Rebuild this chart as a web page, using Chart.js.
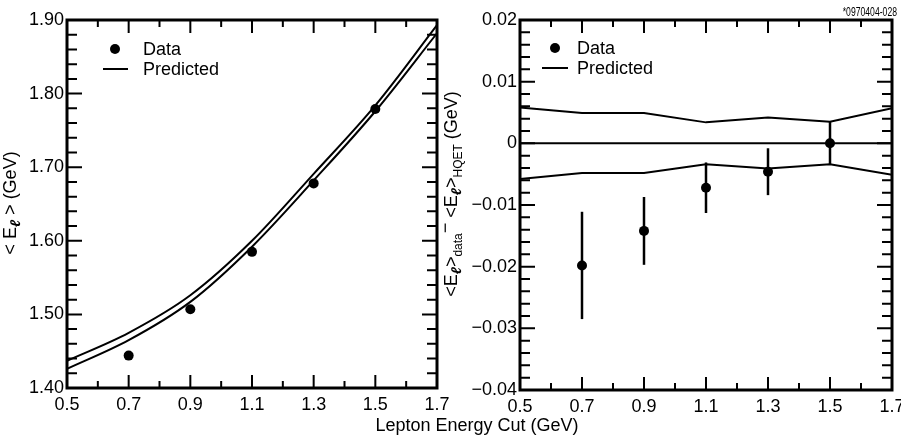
<!DOCTYPE html>
<html>
<head>
<meta charset="utf-8">
<title>Lepton energy moments</title>
<script src="https://cdn.jsdelivr.net/npm/chart.js@4"></script>
<style>
  html, body { margin: 0; padding: 0; background: #fff; }
  #wrap { position: relative; width: 901px; height: 441px; overflow: hidden; background: #fff; }
  #leftChart { position: absolute; left: 0; top: 0; }
  #rightChart { position: absolute; left: 436px; top: 0; }
  #xTitle {
    position: absolute; left: 277px; width: 400px; top: 416px;
    text-align: center; color: #000;
    font: 18px/18px "Liberation Sans", Arial, sans-serif;
  }
</style>
</head>
<body>
<div id="wrap">
  <canvas id="leftChart" width="450" height="441"></canvas>
  <canvas id="rightChart" width="465" height="441"></canvas>
  <div id="xTitle">Lepton Energy Cut (GeV)</div>
</div>
<script>
// lepton energy cuts (GeV)
const cuts = [0.7, 0.9, 1.1, 1.3, 1.5];
const predCuts = [0.5, 0.7, 0.9, 1.1, 1.3, 1.5, 1.7];

// left: <E_l> measured and predicted band
const meanData = [1.444, 1.507, 1.585, 1.678, 1.779];
const predUpper = [1.437, 1.475, 1.526, 1.600, 1.691, 1.784, 1.893];
const predLower = [1.426, 1.465, 1.517, 1.592, 1.682, 1.776, 1.882];

// right: data minus HQET, with errors, and predicted band
const diffData = [-0.0198, -0.0142, -0.0072, -0.0046, 0.0000];
const diffErr = [0.0087, 0.0055, 0.0041, 0.0038, 0.0035];
const bandUpper = [0.0058, 0.0049, 0.0049, 0.0034, 0.0042, 0.0035, 0.0057];
const bandLower = [-0.0058, -0.0048, -0.0048, -0.0034, -0.0041, -0.0034, -0.0051];

// tick labels
const xTickValues = [0.5, 0.7, 0.9, 1.1, 1.3, 1.5, 1.7];
const leftYTicks = [1.40, 1.50, 1.60, 1.70, 1.80, 1.90];
const rightYTicks = [-0.04, -0.03, -0.02, -0.01, 0, 0.01, 0.02];

const FONT = '"Liberation Sans", Arial, Helvetica, sans-serif';
Chart.defaults.font.family = FONT;
Chart.defaults.font.size = 18;
Chart.defaults.color = '#000';

const pts = (xs, ys) => xs.map((x, i) => ({ x: x, y: ys[i] }));

// rotated text made of pieces with different size / offset
function richText(ctx, parts, cx, cy) {
  let total = 0;
  parts.forEach(p => {
    ctx.font = (p.style || '') + ' ' + p.size + 'px ' + FONT;
    p.w = ctx.measureText(p.t).width;
    total += p.w;
  });
  ctx.save();
  ctx.translate(cx, cy);
  ctx.rotate(-Math.PI / 2);
  ctx.textBaseline = 'alphabetic';
  ctx.textAlign = 'left';
  ctx.fillStyle = '#000';
  let x = -total / 2;
  parts.forEach(p => {
    ctx.font = (p.style || '') + ' ' + p.size + 'px ' + FONT;
    ctx.fillText(p.t, x, p.dy || 0);
    x += p.w;
  });
  ctx.restore();
}

// frame, inward ticks, legend, axis title, error bars
function panelDecor(o) {
  return {
    id: 'panelDecor',
    beforeDatasetsDraw(chart) {
      if (!o.errors) return;
      const { ctx, scales: { x, y } } = chart;
      ctx.save();
      ctx.strokeStyle = '#000';
      ctx.lineWidth = 2.5;
      o.errors.x.forEach((v, i) => {
        const px = x.getPixelForValue(v);
        ctx.beginPath();
        ctx.moveTo(px, y.getPixelForValue(o.errors.y[i] - o.errors.e[i]));
        ctx.lineTo(px, y.getPixelForValue(o.errors.y[i] + o.errors.e[i]));
        ctx.stroke();
      });
      ctx.restore();
    },
    afterDraw(chart) {
      const { ctx, chartArea: a, scales: { x, y } } = chart;
      const isMajor = (v, list) => list.some(m => Math.abs(m - v) < 1e-9);
      ctx.save();
      ctx.strokeStyle = '#000';
      ctx.lineWidth = 2;
      ctx.beginPath();
      for (let k = 0; ; k++) {
        const v = x.min + k * o.xMinor;
        if (v > x.max + 1e-9) break;
        const px = x.getPixelForValue(v);
        const len = isMajor(v, xTickValues) ? 13 : 7;
        ctx.moveTo(px, a.bottom); ctx.lineTo(px, a.bottom - len);
        ctx.moveTo(px, a.top); ctx.lineTo(px, a.top + len);
      }
      for (let k = 0; ; k++) {
        const v = y.min + k * o.yMinor;
        if (v > y.max + 1e-9) break;
        const py = y.getPixelForValue(v);
        const len = isMajor(v, o.yMajor) ? 15 : 10;
        ctx.moveTo(a.left, py); ctx.lineTo(a.left + len, py);
        ctx.moveTo(a.right, py); ctx.lineTo(a.right - len, py);
      }
      ctx.stroke();

      ctx.lineWidth = 3;
      ctx.strokeRect(a.left, a.top, a.right - a.left, a.bottom - a.top);

      // legend
      const L = o.legend;
      ctx.fillStyle = '#000';
      ctx.beginPath();
      ctx.arc(L.dotX, L.dotY, 5, 0, Math.PI * 2);
      ctx.fill();
      ctx.lineWidth = 2;
      ctx.beginPath();
      ctx.moveTo(L.lineX0, L.lineY); ctx.lineTo(L.lineX1, L.lineY);
      ctx.stroke();
      ctx.font = '18px ' + FONT;
      ctx.textAlign = 'left';
      ctx.textBaseline = 'middle';
      ctx.fillText('Data', L.textX, L.dotY + 1);
      ctx.fillText('Predicted', L.textX, L.lineY + 1);
      ctx.restore();

      richText(ctx, o.title, o.titleX, o.titleY);

      if (o.tag) {
        ctx.save();
        ctx.fillStyle = '#000';
        ctx.font = '12px ' + FONT;
        ctx.textAlign = 'right';
        ctx.textBaseline = 'alphabetic';
        ctx.translate(o.tag.x, o.tag.y);
        ctx.scale(0.72, 1);
        ctx.fillText(o.tag.text, 0, 0);
        ctx.restore();
      }
    }
  };
}

function xScale(height) {
  return {
    type: 'linear', min: 0.5, max: 1.7,
    afterBuildTicks: s => { s.ticks = xTickValues.map(v => ({ value: v })); },
    afterFit: s => { s.height = height; s.paddingLeft = 0; s.paddingRight = 0; },
    ticks: { callback: v => v.toFixed(1), padding: 6, maxRotation: 0, autoSkip: false },
    grid: { display: false, drawTicks: false },
    border: { display: false }
  };
}

function yScale(min, max, list, width, fmt) {
  return {
    type: 'linear', min: min, max: max,
    afterBuildTicks: s => { s.ticks = list.map(v => ({ value: v })); },
    afterFit: s => { s.width = width; s.paddingTop = 0; s.paddingBottom = 0; },
    ticks: { callback: fmt, padding: 3, autoSkip: false },
    grid: { display: false, drawTicks: false },
    border: { display: false }
  };
}

const lineSet = data => ({
  data: data, showLine: true, pointRadius: 0, borderColor: '#000',
  borderWidth: 2, fill: false
});

const dotSet = data => ({
  data: data, showLine: false, pointRadius: 5, pointHoverRadius: 5,
  backgroundColor: '#000', borderWidth: 0
});

const baseOptions = {
  responsive: false,
  animation: false,
  events: [],
  plugins: { legend: { display: false }, tooltip: { enabled: false } }
};

// left panel: <E_l> vs cut
new Chart(document.getElementById('leftChart'), {
  type: 'scatter',
  data: {
    datasets: [
      Object.assign(lineSet(pts(predCuts, predUpper)), { cubicInterpolationMode: 'monotone' }),
      Object.assign(lineSet(pts(predCuts, predLower)), { cubicInterpolationMode: 'monotone' }),
      dotSet(pts(cuts, meanData))
    ]
  },
  options: Object.assign({}, baseOptions, {
    layout: { padding: { left: 0, right: 13, top: 20, bottom: 0 } },
    scales: {
      x: xScale(53),
      y: yScale(1.4, 1.9, leftYTicks, 67, v => v.toFixed(2))
    }
  }),
  plugins: [panelDecor({
    xMinor: 0.1, yMinor: 0.02, yMajor: leftYTicks,
    legend: { dotX: 115, dotY: 49, lineX0: 103, lineX1: 128, lineY: 69, textX: 143 },
    title: [
      { t: '< E', size: 18 },
      { t: '\u2113', size: 14, style: 'italic bold', dy: 4 },
      { t: ' > (GeV)', size: 18 }
    ],
    titleX: 16, titleY: 203
  })]
});

// right panel: data minus HQET prediction
new Chart(document.getElementById('rightChart'), {
  type: 'scatter',
  data: {
    datasets: [
      lineSet([{ x: 0.5, y: 0 }, { x: 1.7, y: 0 }]),
      lineSet(pts(predCuts, bandUpper)),
      lineSet(pts(predCuts, bandLower)),
      dotSet(pts(cuts, diffData))
    ]
  },
  options: Object.assign({}, baseOptions, {
    layout: { padding: { left: 0, right: 9, top: 20, bottom: 0 } },
    scales: {
      x: xScale(51),
      y: yScale(-0.04, 0.02, rightYTicks, 84,
        v => v === 0 ? '0' : (v < 0 ? '\u2212' : '') + Math.abs(v).toFixed(2))
    }
  }),
  plugins: [panelDecor({
    xMinor: 0.1, yMinor: 0.002, yMajor: rightYTicks,
    errors: { x: cuts, y: diffData, e: diffErr },
    legend: { dotX: 119, dotY: 48, lineX0: 106, lineX1: 132, lineY: 68, textX: 141 },
    title: [
      { t: '<E', size: 18 },
      { t: '\u2113', size: 14, style: 'italic bold', dy: 4 },
      { t: '>', size: 18 },
      { t: 'data', size: 12, dy: 5 },
      { t: '\u2212', size: 18, dy: -6 },
      { t: ' <E', size: 18 },
      { t: '\u2113', size: 14, style: 'italic bold', dy: 4 },
      { t: '>', size: 18 },
      { t: 'HQET', size: 12, dy: 5 },
      { t: ' (GeV)', size: 18 }
    ],
    titleX: 21, titleY: 194,
    tag: { text: '*0970404-028', x: 461, y: 16 }
  })]
});
</script>
</body>
</html>
